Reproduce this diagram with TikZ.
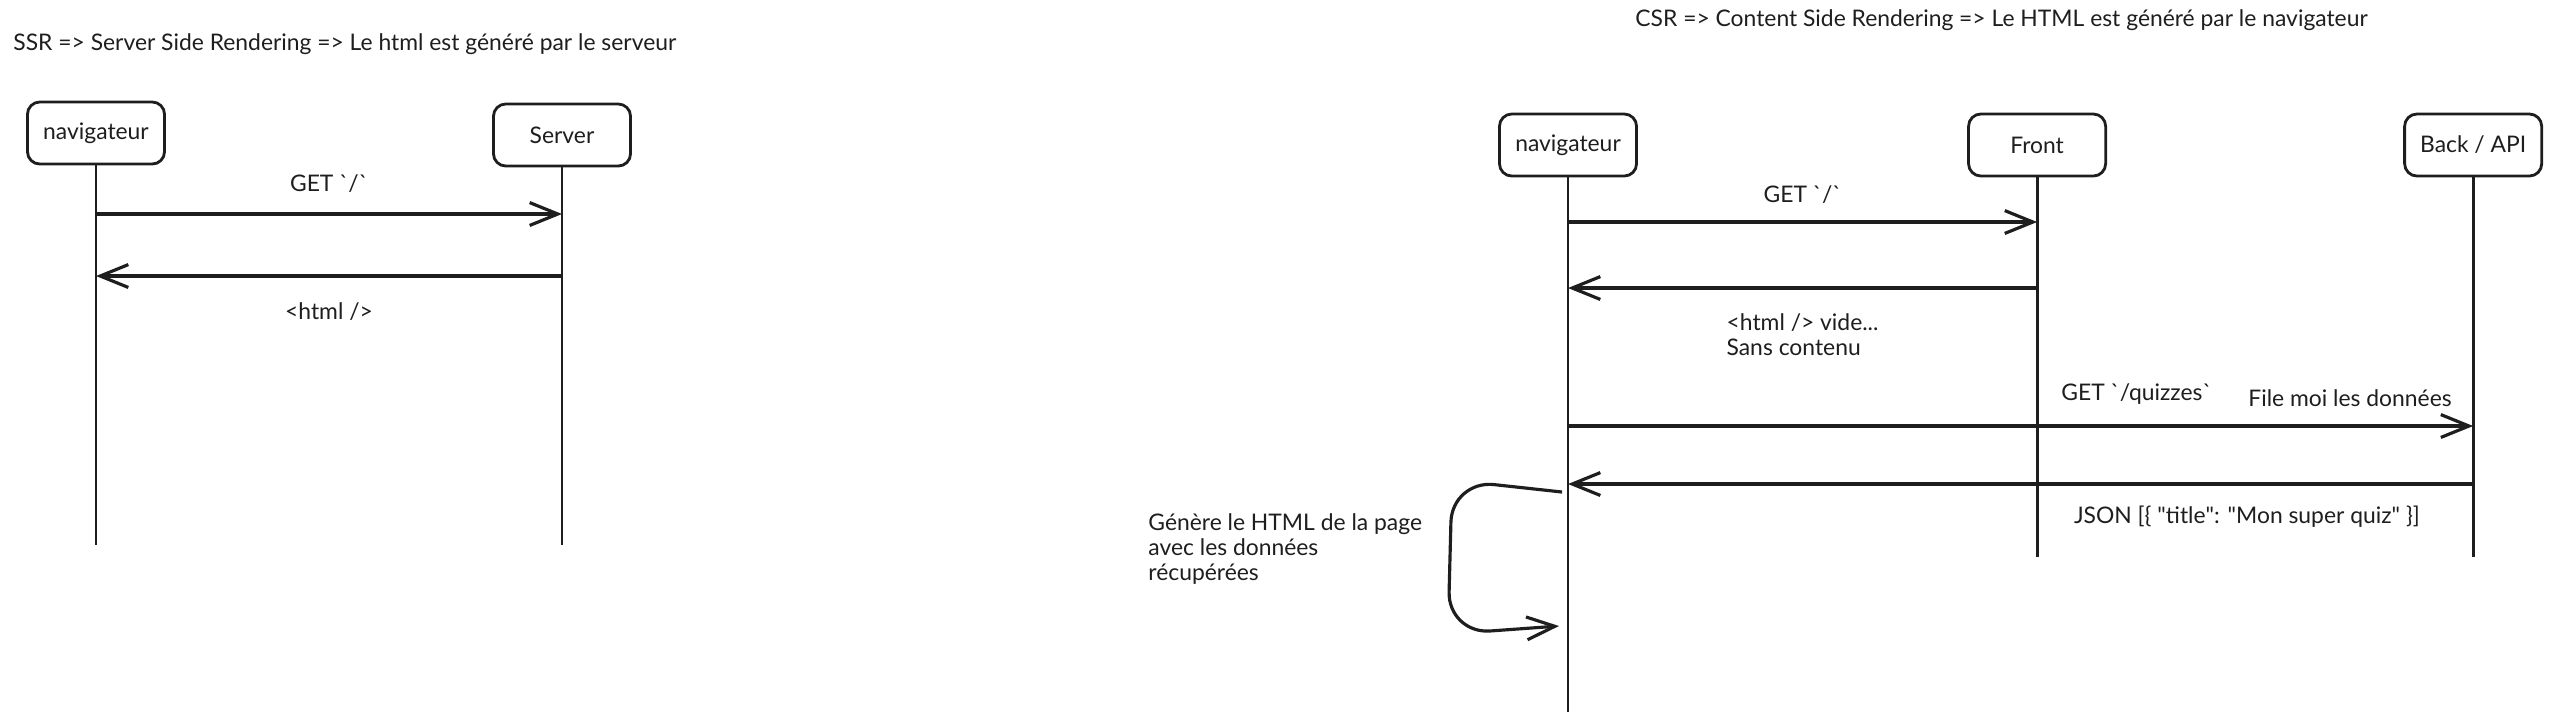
\documentclass[tikz,border=0pt]{standalone}
\usepackage{fontspec}
\setmainfont{Lato}
\usetikzlibrary{arrows.meta, positioning, calc}
\definecolor{ink}{HTML}{1E1E1E}

\begin{document}
\begin{tikzpicture}[x=0.01cm, y=-0.01cm,
    every node/.style={font=\fontsize{6.5}{7.1}\selectfont, text=ink},
    actor/.style={draw=ink, rectangle, rounded corners=3.5pt, line width=0.8pt, minimum width=1.37cm, minimum height=0.62cm},
    life/.style={draw=ink, line width=0.8pt},
    msg/.style={draw=ink, line width=0.9pt, -{Straight Barb[length=8pt, width=6.5pt, line width=0.9pt]}}]
    \useasboundingbox (0,0) rectangle (2549,723);
    % Nodes (SSR)
    \node[anchor=west] (ssrtitle) at (1,44) {SSR => Server Side Rendering => Le html est généré par le serveur};
    \node[actor] (nav1) at (96,133) {navigateur};
    \node[actor] (server) at (562,135) {Server};
    % Nodes (CSR)
    \node[anchor=west] (csrtitle) at (1623,20) {CSR => Content Side Rendering => Le HTML est généré par le navigateur};
    \node[actor] (nav2) at (1568,145) {navigateur};
    \node[actor, right=3.29cm of nav2] (front) {Front};
    \node[actor, right=2.96cm of front] (back) {Back / API};
    % Lifelines
    \coordinate (endL) at (0,545);
    \coordinate (endR) at (0,557);
    \coordinate (endN) at (0,712);
    \draw[life] (nav1.south) -- (nav1 |- endL);
    \draw[life] (server.south) -- (server |- endL);
    \draw[life] (nav2.south) -- (nav2 |- endN);
    \draw[life] (front.south) -- (front |- endR);
    \draw[life] (back.south) -- (back |- endR);
    % Message levels
    \coordinate (m1) at (0,214);
    \coordinate (m2) at (0,276);
    \coordinate (m3) at (0,222);
    \coordinate (m4) at (0,288);
    \coordinate (m5) at (0,426);
    \coordinate (m6) at (0,484);
    % Arrows (SSR)
    \draw[msg] (nav1 |- m1) -- (server |- m1) node[midway, above=2.3pt] {GET \textasciigrave/\textasciigrave};
    \draw[msg] (server |- m2) -- (nav1 |- m2) node[midway, below=3.8pt] {<html />};
    % Arrows (CSR)
    \draw[msg] (nav2 |- m3) -- (front |- m3) node[midway, above=1.6pt] {GET \textasciigrave/\textasciigrave};
    \draw[msg] (front |- m4) -- (nav2 |- m4) node[midway, below=3.6pt, align=left] {<html /> vide...\\Sans contenu};
    \draw[msg] (nav2 |- m5) -- (back |- m5)
        node[pos=0.628, above=2.3pt] {GET \textasciigrave/quizzes\textasciigrave}
        node[pos=0.864, above=1.6pt] {File moi les données};
    \draw[msg] (back |- m6) -- (nav2 |- m6) node[pos=0.25, below=2.6pt] {JSON [\{ \textquotedbl title\textquotedbl: \textquotedbl Mon super quiz\textquotedbl\ \}]};
    % Self loop
    \coordinate (loopin) at (1562,492);
    \coordinate (loopout) at (1559,626);
    \draw[msg, rounded corners=12pt] (loopin) -- (1452,480) -- (1448,634) -- (loopout);
    \node[anchor=west, align=left] (gentext) at (1136,549) {Génère le HTML de la page\\avec les données\\récupérées};
\end{tikzpicture}
\end{document}
